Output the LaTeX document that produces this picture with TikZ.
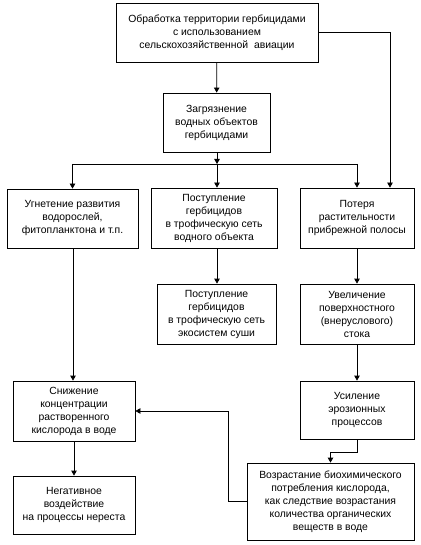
\documentclass[tikz,border=0pt]{standalone}
\usepackage{fontspec}
\setmainfont{Liberation Sans}
\usetikzlibrary{arrows.meta,positioning}

\tikzset{
    box/.style={draw, thick, align=center, inner sep=2pt,
        font=\fontsize{10.4}{13}\selectfont},
    arr/.style={thick, -{Triangle[length=5pt,width=5.5pt]}}
}

\begin{document}
\begin{tikzpicture}[x=1pt, y=-1pt]
    \useasboundingbox (0,0) rectangle (420,545);

    % Top
    \node[box, minimum width=202, minimum height=59] (obrab) at (217, 32.5)
        {Обработка территории гербицидами\\с использованием\\сельскохозяйственной\ \ авиации};
    \node[box, minimum width=107, minimum height=59] (zagr) at (216.5, 122.5)
        {Загрязнение\\водных объектов\\гербицидами};

    % Row 2
    \node[box, minimum width=131, minimum height=59] (ugnet) at (72.5, 218.5)
        {Угнетение развития\\водорослей,\\фитопланктона и т.п.};
    \node[box, minimum width=126, minimum height=60] (postup) at (214, 218)
        {Поступление\\гербицидов\\в трофическую сеть\\водного объекта};
    \node[box, minimum width=114, minimum height=60] (poterya) at (357, 218)
        {Потеря\\растительности\\прибрежной полосы};

    % Row 3
    \node[box, minimum width=119, minimum height=60] (postsushi) at (216.5, 314)
        {Поступление\\гербицидов\\в трофическую сеть\\экосистем суши};
    \node[box, minimum width=114, minimum height=60] (uvelich) at (357, 314)
        {Увеличение\\поверхностного\\(внеруслового)\\стока};

    % Row 4
    \node[box, minimum width=122, minimum height=60] (snizh) at (74, 411)
        {Снижение\\концентрации\\растворенного\\кислорода в воде};
    \node[box, minimum width=114, minimum height=58] (usil) at (357, 410)
        {Усиление\\эрозионных\\процессов};

    % Bottom
    \node[box, minimum width=122, minimum height=58] (negat) at (74, 505)
        {Негативное\\воздействие\\на процессы нереста};
    \node[box, minimum width=167, minimum height=77] (vozr) at (330.5, 501.5)
        {Возрастание биохимического\\потребления кислорода,\\как следствие возрастания\\количества органических\\веществ в воде};

    % Connectors
    \coordinate (razv) at (217, 164);
    \coordinate (bok) at (390, 0);
    \draw[arr] (obrab) -- (zagr);
    \draw[arr] (zagr.south -| razv) -- (razv);
    \draw[thick] (razv -| ugnet) -- (razv -| poterya);
    \draw[arr] (razv -| ugnet) -- (ugnet.north);
    \draw[arr] (razv) -- (razv |- postup.north);
    \draw[arr] (razv -| poterya) -- (poterya.north);
    \draw[arr] (obrab.east) -| (bok |- poterya.north);
    \draw[arr] (razv |- postup.south) -- (razv |- postsushi.north);
    \draw[arr] (poterya) -- (uvelich);
    \draw[arr] (uvelich) -- (usil);
    \draw[arr] (usil.south) -- ++(0,13) -| (vozr.north);
    \draw[arr] (ugnet.south -| 73,0) -- (snizh.north -| 73,0);
    \draw[arr] (snizh) -- (negat);
    \draw[arr] (vozr.west) -- ++(-18,0) |- (snizh.east);
\end{tikzpicture}
\end{document}
